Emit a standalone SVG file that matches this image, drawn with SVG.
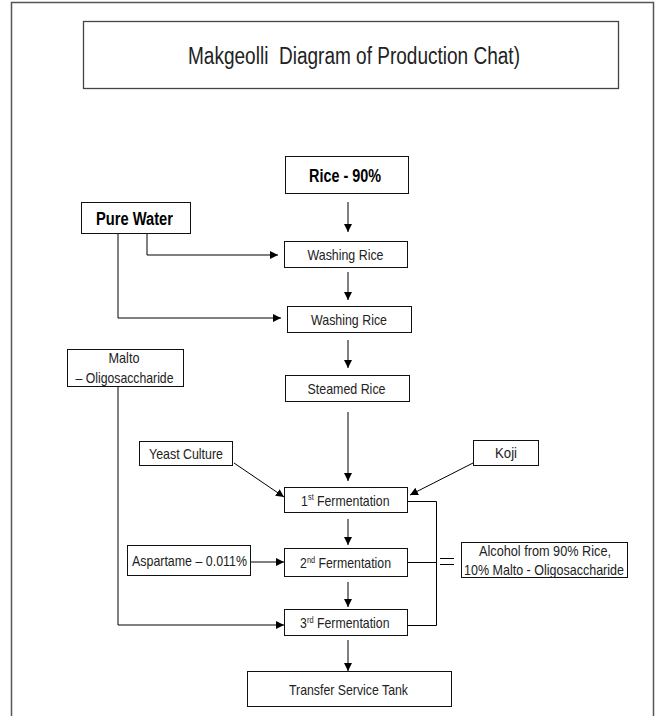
<svg xmlns="http://www.w3.org/2000/svg" width="659" height="716" viewBox="0 0 659 716">
<style>
.box{fill:#fff;stroke:#111;stroke-width:1}
.t{font-family:"Liberation Sans Narrow","Liberation Sans",Arial,sans-serif;fill:#222;text-anchor:middle;font-size:15px}
.s{text-anchor:start}
.sup{text-anchor:start;font-size:9px}
.b{font-weight:bold;font-size:18px;fill:#000}
.c{fill:none;stroke:#000;stroke-width:1}
</style>
<defs>
<marker id="ah" viewBox="0 0 10 10" refX="10" refY="5" markerWidth="8" markerHeight="8" markerUnits="userSpaceOnUse" orient="auto">
<path d="M0,0 L10,5 L0,10 z" fill="#000"/>
</marker>
</defs>
<rect width="659" height="716" fill="#fff"/>
<path d="M11.5,716 V2.5 H653.5 V716" fill="none" stroke="#555" stroke-width="1.5"/>
<g id="title"><rect x="83.5" y="21.5" width="535" height="67" fill="#fff" stroke="#444" stroke-width="1.3"/>
<text class="t" x="354" y="64" style="font-size:23px" textLength="332" lengthAdjust="spacingAndGlyphs">Makgeolli&#160; Diagram of Production Chat)</text></g>
<g id="connectors">
<path class="c" d="M348,202 V232" marker-end="url(#ah)"/>
<path class="c" d="M147,233 V255 H278" marker-end="url(#ah)"/>
<path class="c" d="M118,233 V318 H281" marker-end="url(#ah)"/>
<path class="c" d="M348,272 V300" marker-end="url(#ah)"/>
<path class="c" d="M348,340 V368" marker-end="url(#ah)"/>
<path class="c" d="M348,412 V481" marker-end="url(#ah)"/>
<path class="c" d="M234,463 L284,497" marker-end="url(#ah)"/>
<path class="c" d="M473,463 L410,495" marker-end="url(#ah)"/>
<path class="c" d="M348,519 V545" marker-end="url(#ah)"/>
<path class="c" d="M348,582 V607" marker-end="url(#ah)"/>
<path class="c" d="M251,562 H284" marker-end="url(#ah)"/>
<path class="c" d="M118,387 V625 H284" marker-end="url(#ah)"/>
<path class="c" d="M408,501.5 H436.5 V625.5 H408"/>
<path class="c" d="M408,562.5 H436.5"/>
<path class="c" d="M440,558.5 H454 M440,564.5 H454"/>
<path class="c" d="M348,640 V671" marker-end="url(#ah)"/>
</g>
<g id="rice"><rect class="box" x="285.5" y="156.5" width="123" height="37"/>
<text class="t b" x="345" y="181.5" textLength="72" lengthAdjust="spacingAndGlyphs">Rice - 90%</text></g>
<g id="purewater"><rect class="box" x="81.5" y="202.5" width="109" height="31"/>
<text class="t b" x="134.5" y="224.5" textLength="77" lengthAdjust="spacingAndGlyphs">Pure Water</text></g>
<g id="washing1"><rect class="box" x="284.5" y="241.5" width="123" height="26"/>
<text class="t" x="345.5" y="259.5" textLength="76" lengthAdjust="spacingAndGlyphs">Washing Rice</text></g>
<g id="washing2"><rect class="box" x="287.5" y="306.5" width="124" height="26"/>
<text class="t" x="349" y="324.5" textLength="76" lengthAdjust="spacingAndGlyphs">Washing Rice</text></g>
<g id="malto"><rect class="box" x="67.5" y="349.5" width="116" height="37"/>
<text class="t" x="124" y="362.5" textLength="31" lengthAdjust="spacingAndGlyphs">Malto</text>
<text class="t" x="124.5" y="382.5" textLength="98" lengthAdjust="spacingAndGlyphs">– Oligosaccharide</text></g>
<g id="steamed"><rect class="box" x="285.5" y="375.5" width="124" height="26"/>
<text class="t" x="346.5" y="393.5" textLength="78" lengthAdjust="spacingAndGlyphs">Steamed Rice</text></g>
<g id="yeast"><rect class="box" x="139.5" y="441.5" width="93" height="24"/>
<text class="t" x="186" y="458.5" textLength="74" lengthAdjust="spacingAndGlyphs">Yeast Culture</text></g>
<g id="koji"><rect class="box" x="473.5" y="440.5" width="65" height="25"/>
<text class="t" x="506" y="458" textLength="22" lengthAdjust="spacingAndGlyphs">Koji</text></g>
<g id="ferm1"><rect class="box" x="284.5" y="487.5" width="123" height="25"/>
<text class="t s" x="301" y="505.5" textLength="6.8" lengthAdjust="spacingAndGlyphs">1</text>
<text class="t sup" x="308" y="500" textLength="5.7" lengthAdjust="spacingAndGlyphs">st</text>
<text class="t s" x="317" y="505.5" textLength="72.5" lengthAdjust="spacingAndGlyphs">Fermentation</text></g>
<g id="aspartame"><rect class="box" x="127.5" y="545.5" width="123" height="30"/>
<text class="t" x="189.5" y="566" textLength="115" lengthAdjust="spacingAndGlyphs">Aspartame – 0.011%</text></g>
<g id="ferm2"><rect class="box" x="284.5" y="548.5" width="123" height="28"/>
<text class="t s" x="300" y="568" textLength="6.8" lengthAdjust="spacingAndGlyphs">2</text>
<text class="t sup" x="307" y="562.5" textLength="8.2" lengthAdjust="spacingAndGlyphs">nd</text>
<text class="t s" x="318.5" y="568" textLength="72.5" lengthAdjust="spacingAndGlyphs">Fermentation</text></g>
<g id="alcohol"><rect class="box" x="461.5" y="542.5" width="166" height="35"/>
<text class="t" x="545" y="556" textLength="132" lengthAdjust="spacingAndGlyphs">Alcohol from 90% Rice,</text>
<text class="t" x="544" y="574.5" textLength="160" lengthAdjust="spacingAndGlyphs">10% Malto - Oligosaccharide</text></g>
<g id="ferm3"><rect class="box" x="284.5" y="609.5" width="123" height="26"/>
<text class="t s" x="300" y="628" textLength="6.8" lengthAdjust="spacingAndGlyphs">3</text>
<text class="t sup" x="307" y="622.5" textLength="6.6" lengthAdjust="spacingAndGlyphs">rd</text>
<text class="t s" x="317" y="628" textLength="72.5" lengthAdjust="spacingAndGlyphs">Fermentation</text></g>
<g id="transfer"><rect class="box" x="247.5" y="671.5" width="204" height="35"/>
<text class="t" x="348.5" y="694.5" textLength="119" lengthAdjust="spacingAndGlyphs">Transfer Service Tank</text></g>
</svg>
